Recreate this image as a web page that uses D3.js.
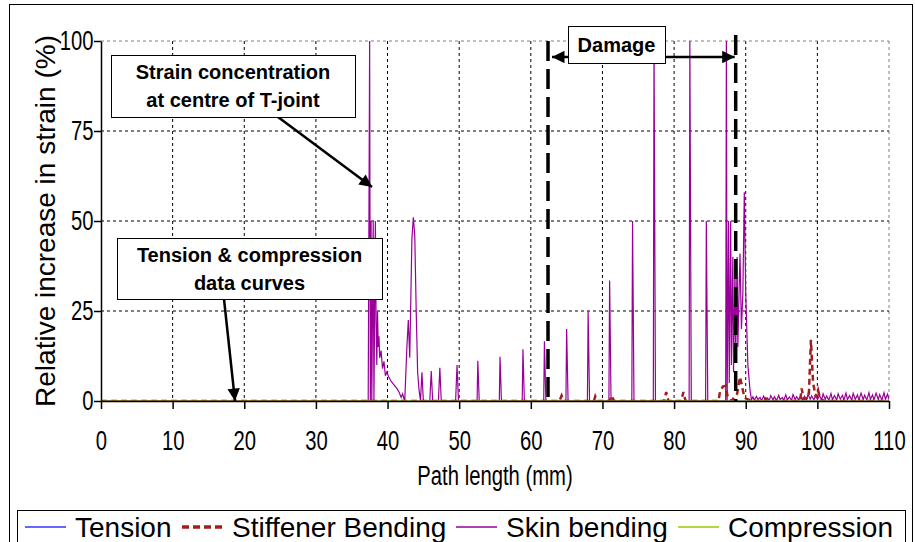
<!DOCTYPE html>
<html lang="en">
<head>
<meta charset="UTF-8">
<title>Relative increase in strain</title>
<script src="https://d3js.org/d3.v7.min.js"></script>
<style>
    body { margin: 0; background: #fff; font-family: "Liberation Sans", Arial, sans-serif; }
    svg text { font-family: "Liberation Sans", Arial, sans-serif; }
</style>
</head>
<body>
<div id="chart"></div>
<script>
    // ---- data ----
    const xTicks = [0, 10, 20, 30, 40, 50, 60, 70, 80, 90, 100, 110];
    const yTicks = [0, 25, 50, 75, 100];

    // tension and compression stay flat at zero along the whole path
    const tension = [[0, 0], [110, 0]];
    const compression = [[0, 0], [110, 0]];

    const stiffenerBending = [
        [0, 0], [64.0, 0], [64.3, 1.5], [64.6, 0], [68.8, 0], [69.0, 1.3], [69.3, 0],
        [71.0, 0], [71.3, 1.5], [71.6, 0], [78.6, 0], [78.9, 2.5], [79.2, 0],
        [81.0, 0], [81.3, 2.5], [81.6, 0], [86.2, 0], [86.4, 2.5], [86.8, 4], [87.2, 4.2],
        [87.5, 1], [88.0, 0], [88.8, 2], [89.2, 6.7], [89.5, 4], [89.8, 1], [90.2, 0.5],
        [91.0, 0], [92.6, 0], [92.8, 0.6], [93.0, 0], [97.6, 0], [97.8, 3.5], [98.1, 0.5],
        [98.8, 1], [99.1, 17], [99.4, 5], [99.8, 1], [100.1, 3], [100.4, 0.5], [101, 0],
        [105.5, 0], [105.7, 0.6], [105.9, 0], [110, 0]
    ];

    const skinBending = [
        [0, 0], [37.3, 0], [37.5, 100], [37.6, 0], [37.7, 50], [37.8, 0], [38.0, 50], [38.1, 0],
        [38.3, 50], [38.4, 22], [38.5, 10], [38.6, 25], [38.7, 15], [38.8, 18], [38.9, 12],
        [39.1, 14], [39.3, 9], [39.5, 11], [39.7, 7], [39.9, 8], [40.2, 6.5], [40.5, 5.5],
        [40.9, 4.5], [41.3, 3.5], [41.6, 2.5], [41.9, 1], [42.1, 2], [42.4, 0], [42.7, 15],
        [42.9, 22.5], [43.1, 12], [43.4, 45], [43.6, 51], [43.8, 46], [44.0, 25], [44.2, 8],
        [44.4, 3], [44.6, 0], [44.8, 8], [45.0, 0], [45.9, 0], [46.1, 8.3], [46.3, 0],
        [47.1, 0], [47.3, 9.2], [47.5, 0], [49.5, 0], [49.7, 10], [49.9, 0],
        [52.5, 0], [52.6, 11.2], [52.8, 0], [55.6, 0], [55.7, 12.3], [55.9, 0],
        [58.8, 0], [58.9, 14.4], [59.1, 0], [61.8, 0], [61.9, 16.6], [62.1, 0],
        [64.9, 0], [65.0, 20], [65.2, 0], [67.9, 0], [68.0, 25], [68.2, 0],
        [70.9, 0], [71.0, 33.5], [71.2, 0], [74.1, 0], [74.2, 50], [74.4, 0],
        [77.1, 0], [77.2, 100], [77.4, 0], [82.1, 0], [82.2, 100], [82.4, 0],
        [84.4, 0], [84.5, 50], [84.7, 0], [87.2, 0], [87.3, 100], [87.4, 0],
        [87.6, 50], [87.7, 5], [87.9, 50], [88.0, 10], [88.2, 40], [88.3, 8], [88.5, 37],
        [88.6, 12], [88.8, 40], [88.9, 15], [89.1, 33], [89.2, 41], [89.4, 20], [89.6, 30],
        [89.8, 58], [90.0, 30], [90.3, 10], [90.6, 3],
        [90.8, 0.3], [91.0, 1.2], [91.2, 0.2], [91.5, 1.3], [91.7, 0.4], [92.0, 1.0],
        [92.2, 0.1], [92.5, 1.4], [92.7, 0.3], [93.0, 0.9], [93.3, 0.2], [93.5, 1.5],
        [93.8, 0.3], [94.0, 1.2], [94.3, 0.1], [94.6, 1.6], [94.8, 0.4], [95.1, 1.0],
        [95.3, 0.2], [95.6, 1.7], [95.8, 0.3], [96.1, 1.1], [96.4, 0.2], [96.6, 1.8],
        [96.9, 0.4], [97.1, 1.2], [97.4, 0.3], [97.7, 1.6], [97.9, 0.2], [98.2, 1.3],
        [98.5, 0.3], [98.7, 1.9], [99.0, 0.5], [99.2, 1.4], [99.5, 0.3], [99.8, 1.8],
        [100.0, 0.4], [100.3, 1.5], [100.6, 0.3], [100.8, 2.0], [101.1, 0.5], [101.3, 1.4],
        [101.6, 0.2], [101.9, 2.1], [102.1, 0.4], [102.4, 1.5], [102.7, 0.3], [102.9, 2.0],
        [103.2, 0.5], [103.5, 1.6], [103.7, 0.3], [104.0, 2.2], [104.2, 0.4], [104.5, 1.5],
        [104.8, 0.3], [105.0, 2.1], [105.3, 0.5], [105.6, 1.7], [105.8, 0.3], [106.1, 2.2],
        [106.4, 0.4], [106.6, 1.6], [106.9, 0.3], [107.2, 2.3], [107.4, 0.5], [107.7, 1.7],
        [107.9, 0.3], [108.2, 2.2], [108.5, 0.4], [108.7, 1.8], [109.0, 0.3], [109.3, 2.3],
        [109.5, 0.5], [109.8, 1.9], [110, 0.4]
    ];

    // damage zone bounds (mm)
    const damageZone = [62.4, 88.6];

    const seriesNames = ["Tension", "Stiffener Bending", "Skin bending", "Compression"];
    const seriesColors = ["#3333ff", "#a31f1f", "#990099", "#99cc00"];

    // ---- layout ----
    const width = 915;
    const height = 542;

    const x = d3.scaleLinear().domain([0, 110]).range([101, 889]);
    const y = d3.scaleLinear().domain([0, 100]).range([401, 41]);

    const svg = d3.select("#chart")
        .append("svg")
        .attr("width", width)
        .attr("height", height);

    svg.append("rect")
        .attr("x", 9.5).attr("y", 4.5)
        .attr("width", 903).attr("height", 560)
        .attr("fill", "#fff").attr("stroke", "#000").attr("stroke-width", 1);

    const defs = svg.append("defs");
    defs.append("clipPath").attr("id", "plotClip")
        .append("rect")
        .attr("x", x(0)).attr("y", y(100) - 1)
        .attr("width", x(110) - x(0)).attr("height", y(0) - y(100) + 2);

    defs.append("marker")
        .attr("id", "arrow")
        .attr("viewBox", "0 0 10 10")
        .attr("refX", 10).attr("refY", 5)
        .attr("markerWidth", 6).attr("markerHeight", 5)
        .attr("markerUnits", "strokeWidth")
        .attr("orient", "auto-start-reverse")
        .append("path")
        .attr("d", "M0,0 L10,5 L0,10 z")
        .attr("fill", "#000");

    // gridlines
    svg.append("g")
        .selectAll("line")
        .data(xTicks.filter(d => d > 0))
        .join("line")
        .attr("x1", d => x(d)).attr("x2", d => x(d))
        .attr("y1", y(100)).attr("y2", y(0))
        .attr("stroke", d => d === 110 ? "#808080" : "#000")
        .attr("stroke-width", 1)
        .attr("stroke-dasharray", "3,3");

    svg.append("g")
        .selectAll("line")
        .data(yTicks.filter(d => d > 0))
        .join("line")
        .attr("x1", x(0)).attr("x2", x(110))
        .attr("y1", d => y(d)).attr("y2", d => y(d))
        .attr("stroke", d => d === 100 ? "#808080" : "#000")
        .attr("stroke-width", 1)
        .attr("stroke-dasharray", "3,3");

    // data series
    const line = d3.line().x(d => x(d[0])).y(d => y(d[1]));
    const plot = svg.append("g").attr("clip-path", "url(#plotClip)");

    plot.append("path").datum(tension)
        .attr("d", line).attr("fill", "none")
        .attr("stroke", seriesColors[0]).attr("stroke-width", 1);

    plot.append("path").datum(skinBending)
        .attr("d", line).attr("fill", "none")
        .attr("stroke", seriesColors[2]).attr("stroke-width", 1.2);

    plot.append("path").datum(stiffenerBending)
        .attr("d", line).attr("fill", "none")
        .attr("stroke", seriesColors[1]).attr("stroke-width", 2.5)
        .attr("stroke-dasharray", "6,4");

    plot.append("path").datum(compression)
        .attr("d", line).attr("fill", "none")
        .attr("stroke", seriesColors[3]).attr("stroke-width", 1);

    // axes (tick text is drawn tall and narrow, as in the reference)
    const xAxis = svg.append("g")
        .attr("transform", `translate(0,${y(0)})`)
        .call(d3.axisBottom(x).tickValues(xTicks).tickSize(8).tickPadding(22).tickSizeOuter(0));
    const yAxis = svg.append("g")
        .attr("transform", `translate(${x(0)},0)`)
        .call(d3.axisLeft(y).tickValues(yTicks).tickSize(7).tickPadding(3).tickSizeOuter(0));

    [xAxis, yAxis].forEach(g => {
        g.select(".domain").attr("stroke", "#000").attr("stroke-width", 1.5);
        g.selectAll(".tick line").attr("stroke", "#000").attr("stroke-width", 1.5);
        g.selectAll(".tick text").attr("fill", "#000").style("font-size", "27px")
            .style("font-family", "'Liberation Sans', Arial, sans-serif")
            .attr("transform", "scale(0.75,1)");
    });

    svg.append("text")
        .attr("transform", "translate(495,485) scale(0.75,1)")
        .attr("text-anchor", "middle")
        .style("font-size", "27px")
        .text("Path length (mm)");

    svg.append("text")
        .attr("transform", "translate(55,221) rotate(-90)")
        .attr("text-anchor", "middle")
        .style("font-size", "28px")
        .text("Relative increase in strain (%)");

    // damage zone markers
    svg.append("g")
        .selectAll("line")
        .data(damageZone)
        .join("line")
        .attr("x1", d => x(d)).attr("x2", d => x(d))
        .attr("y1", (d, i) => i === 0 ? 41 : 35).attr("y2", y(0))
        .attr("stroke", "#000").attr("stroke-width", 3.5)
        .attr("stroke-dasharray", "20,8");

    svg.append("line")
        .attr("x1", x(damageZone[0]) + 4).attr("x2", x(damageZone[1]) - 1)
        .attr("y1", 57).attr("y2", 57)
        .attr("stroke", "#000").attr("stroke-width", 2.5)
        .attr("marker-start", "url(#arrow)")
        .attr("marker-end", "url(#arrow)");

    function noteBox(x0, y0, w, h, lines, lineGap) {
        svg.append("rect")
            .attr("x", x0 + 0.5).attr("y", y0 + 0.5)
            .attr("width", w).attr("height", h)
            .attr("fill", "#fff").attr("stroke", "#000").attr("stroke-width", 1);
        lines.forEach((t, i) => {
            svg.append("text")
                .attr("x", x0 + w / 2)
                .attr("y", y0 + h / 2 + (i - (lines.length - 1) / 2) * lineGap)
                .attr("dy", "0.36em")
                .attr("text-anchor", "middle")
                .style("font-size", "20px")
                .style("font-weight", "bold")
                .text(t);
        });
    }

    noteBox(568, 26, 97, 37, ["Damage"], 0);

    // annotation arrows
    svg.append("line")
        .attr("x1", 278).attr("y1", 117).attr("x2", 372).attr("y2", 187)
        .attr("stroke", "#000").attr("stroke-width", 2.5)
        .attr("marker-end", "url(#arrow)");
    svg.append("line")
        .attr("x1", 224).attr("y1", 299).attr("x2", 235).attr("y2", 401)
        .attr("stroke", "#000").attr("stroke-width", 2.5)
        .attr("marker-end", "url(#arrow)");

    noteBox(111, 55, 244, 62, ["Strain concentration", "at centre of T-joint"], 28);
    noteBox(117, 238, 265, 61, ["Tension & compression", "data curves"], 28);

    // legend
    const legend = svg.append("g");
    legend.append("rect")
        .attr("x", 17.5).attr("y", 510.5)
        .attr("width", 888).attr("height", 45)
        .attr("fill", "#fff").attr("stroke", "#000").attr("stroke-width", 1);

    const legendX = [25, 182, 456, 678];
    seriesNames.forEach((name, i) => {
        const lx = legendX[i];
        legend.append("line")
            .attr("x1", lx).attr("x2", lx + 41)
            .attr("y1", 527).attr("y2", 527)
            .attr("stroke", seriesColors[i])
            .attr("stroke-width", i === 1 ? 3.5 : 1.5)
            .attr("stroke-dasharray", i === 1 ? "7,4" : null);
        legend.append("text")
            .attr("x", lx + 50).attr("y", 537)
            .style("font-size", "28px")
            .text(name);
    });
</script>
</body>
</html>
